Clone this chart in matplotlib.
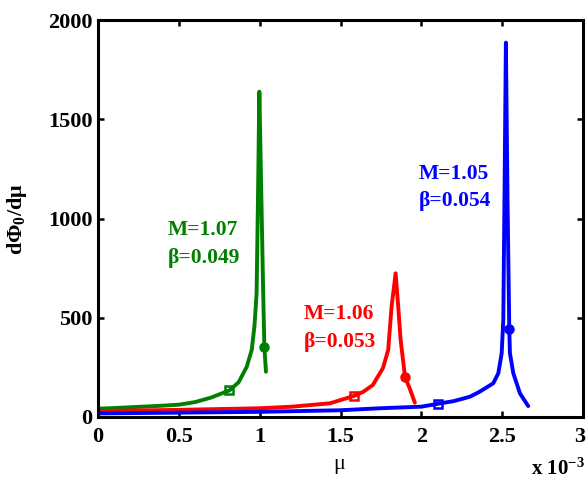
import matplotlib
matplotlib.use("Agg")
import matplotlib.pyplot as plt
import matplotlib.transforms as mtransforms

plt.rcParams['font.family'] = ['Liberation Serif', 'DejaVu Serif']
plt.rcParams['font.weight'] = 'bold'
plt.rcParams['mathtext.fontset'] = 'custom'
plt.rcParams['mathtext.rm'] = 'Liberation Serif:bold'
plt.rcParams['mathtext.it'] = 'Liberation Serif:bold'
plt.rcParams['mathtext.bf'] = 'Liberation Serif:bold'

# mu in units of 1e-3, dPhi0/dmu
mu_107 = [0.0, 0.1, 0.2, 0.3, 0.4, 0.5, 0.6, 0.7, 0.813, 0.87, 0.92, 0.951,
          0.968, 0.981, 0.990, 0.998, 1.010, 1.020, 1.029, 1.039]
phi_107 = [42, 45, 49, 53, 57, 62, 75, 98, 134, 175, 253, 338,
           460, 623, 1127, 1639, 1130, 700, 351, 228]
sq_107, ci_107 = 8, 18

mu_106 = [0.0, 0.25, 0.5, 0.75, 1.0, 1.2, 1.435, 1.583, 1.641, 1.70, 1.763,
          1.795, 1.816, 1.841, 1.857, 1.872, 1.899, 1.93, 1.960]
phi_106 = [30, 33, 36, 40, 44, 52, 69, 106, 127, 161, 247,
           338, 556, 724, 556, 388, 203, 140, 72]
sq_106, ci_106 = 7, 16

mu_105 = [0.0, 0.5, 1.0, 1.5, 1.744, 2.0, 2.105, 2.2, 2.30, 2.36, 2.445,
          2.476, 2.497, 2.507, 2.515, 2.523, 2.533, 2.544, 2.548, 2.569, 2.61, 2.661]
phi_105 = [18, 22, 26, 34, 44, 52, 67, 80, 102, 127, 170,
           220, 321, 489, 1160, 1886, 1100, 442, 321, 220, 119, 55]
sq_105, ci_105 = 6, 17

series = [
    (mu_107, phi_107, sq_107, ci_107, '#008000', ('M=1.07', 'β=0.049'), (0.430, 917, 777)),
    (mu_106, phi_106, sq_106, ci_106, '#ff0000', ('M=1.06', 'β=0.053'), (1.274, 492, 354)),
    (mu_105, phi_105, sq_105, ci_105, '#0000ff', ('M=1.05', 'β=0.054'), (1.981, 1199, 1063)),
]

x_ticks = [0, 0.5, 1, 1.5, 2, 2.5, 3]
x_tick_labels = ['0', '0.5', '1', '1.5', '2', '2.5', '3']
y_ticks = [0, 500, 1000, 1500, 2000]

fig = plt.figure(figsize=(5.87, 4.79), dpi=100)
ax = fig.add_axes([98/587, 1 - 417/479, 485/587, 397/479])

for mu, phi, isq, ici, col, lines, (tx, ty1, ty2) in series:
    ax.plot(mu, phi, color=col, lw=2.8, solid_joinstyle='round', solid_capstyle='round')
    ax.plot([mu[isq]], [phi[isq]], ls='none', marker='s', ms=6,
            mfc='none', mec=col, mew=1.8)
    ax.plot([mu[ici]], [phi[ici]], ls='none', marker='o', ms=6.5,
            mfc=col, mec=col)
    ax.text(tx, ty1, lines[0], color=col, fontsize=15.5, fontweight='bold', va='baseline', ha='left')
    ax.text(tx, ty2, lines[1], color=col, fontsize=15.5, fontweight='bold', va='baseline', ha='left')

ax.set_xlim(0, 3)
ax.set_ylim(0, 2000)
ax.set_xticks(x_ticks)
ax.set_xticklabels(x_tick_labels)
ax.set_yticks(y_ticks)
ax.tick_params(direction='in', length=4, width=1.8, top=True, right=True,
               labelsize=16)
ax.tick_params(axis='x', pad=7)
ax.tick_params(axis='y', pad=4)
for lab in ax.get_xticklabels() + ax.get_yticklabels():
    lab.set_fontweight('bold')
for sp in ax.spines.values():
    sp.set_linewidth(2.2)

# keep the last x tick label inside the figure edge
last = ax.get_xticklabels()[-1]
last.set_transform(last.get_transform() +
                   mtransforms.ScaledTranslation(-3/100, 0, fig.dpi_scale_trans))

ax.set_ylabel(r'$\mathrm{d\Phi_0/d\mu}$', fontsize=16)
ax.yaxis.set_label_coords(-0.142, 0.5)
fig.text(339/587, 1 - 464/479, 'μ', fontsize=16, fontweight='normal',
         ha='center', va='center')
fig.text(585/587, 1 - 475/479, r'x 10$^{-3}$', fontsize=15, fontweight='bold',
         ha='right', va='baseline')

fig.savefig('out.png', dpi=100)
